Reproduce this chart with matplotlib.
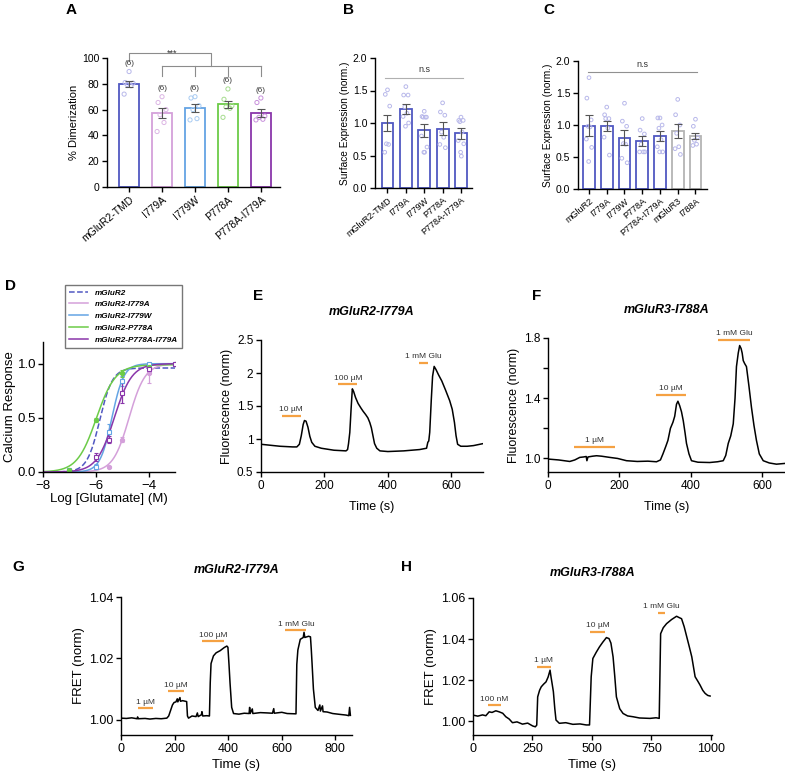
import numpy as np
import matplotlib
matplotlib.use('Agg')
import matplotlib.pyplot as plt

plt.rcParams['font.family'] = ['Liberation Sans', 'DejaVu Sans']

# ---------------- data ----------------
# Panel A
a_cats = ['mGluR2-TMD', 'I779A', 'I779W', 'P778A', 'P778A-I779A']
a_means = [80, 57.5, 61.5, 64, 57.5]
a_sems = [2.5, 4, 3, 3, 3.3]
a_points = [[89.5, 81, 80.5, 79.5, 78.5, 72],
            [70, 65.5, 60, 56, 50, 43],
            [70, 69, 63, 60, 53, 52],
            [76, 68, 63, 62, 61, 54],
            [69, 65.5, 55, 54, 52.5, 52]]
a_n = ['(6)', '(6)', '(6)', '(6)', '(6)']
a_n_y = [96, 76, 76, 82.5, 75]

# Panel B
b_cats = ['mGluR2-TMD', 'I779A', 'I779W', 'P778A', 'P778A-I779A']
b_means = [1.0, 1.22, 0.89, 0.91, 0.84]
b_sems = [0.13, 0.08, 0.10, 0.10, 0.08]
b_points = [[1.51, 1.44, 1.26, 0.68, 0.67, 0.55],
            [1.56, 1.43, 1.43, 1.25, 1.15, 1.10, 1.00, 0.95],
            [1.18, 1.10, 1.09, 1.09, 1.09, 0.80, 0.63, 0.55, 0.55],
            [1.31, 1.17, 1.12, 0.86, 0.78, 0.67, 0.62],
            [1.09, 1.04, 1.04, 1.02, 0.86, 0.73, 0.68, 0.55, 0.49]]

# Panel C
c_cats = ['mGluR2', 'I779A', 'I779W', 'P778A', 'P778A-I779A', 'mGluR3', 'I788A']
c_means = [0.99, 0.98, 0.80, 0.75, 0.83, 0.91, 0.83]
c_sems = [0.16, 0.08, 0.12, 0.08, 0.08, 0.11, 0.05]
c_points = [[1.74, 1.42, 1.08, 0.98, 0.97, 0.78, 0.65, 0.43],
            [1.28, 1.16, 1.10, 1.10, 0.95, 0.81, 0.53],
            [1.34, 1.06, 0.98, 0.71, 0.70, 0.48, 0.41],
            [1.10, 0.92, 0.86, 0.70, 0.58, 0.58, 0.58],
            [1.11, 1.11, 1.00, 0.95, 0.77, 0.66, 0.58, 0.58],
            [1.40, 1.16, 1.00, 0.87, 0.66, 0.63, 0.54],
            [1.09, 0.98, 0.81, 0.76, 0.70, 0.68]]

# Panel D (dose response: fitted Hill parameters and measured points)
d_names = ['mGluR2', 'mGluR2-I779A', 'mGluR2-I779W', 'mGluR2-P778A', 'mGluR2-P778A-I779A']
d_logec50 = [-5.85, -4.74, -5.39, -5.98, -5.30]
d_hill = [1.8, 1.43, 1.93, 1.2, 1.3]
d_top = [0.96, 1.0, 1.0, 0.99, 1.0]
d_pts_x = [[],
           [-5.5, -5, -4, -3],
           [-7, -6, -5.5, -5, -4, -3],
           [-7, -6, -5, -4, -3],
           [-6, -5.5, -5, -4, -3]]
d_pts_y = [[],
           [0.05, 0.30, 0.91, 1.0],
           [0.02, 0.05, 0.37, 0.84, 1.0, 1.0],
           [0.02, 0.48, 0.91, 0.97, 1.0],
           [0.14, 0.30, 0.73, 0.95, 1.0]]
d_pts_err = [[],
             [0.01, 0.02, 0.09, 0.01],
             [0.01, 0.02, 0.07, 0.05, 0.01, 0.01],
             [0.01, 0.02, 0.03, 0.01, 0.01],
             [0.04, 0.03, 0.09, 0.03, 0.01]]

# Panel E trace
e_t = [0, 30, 60, 100, 113, 121, 127, 133, 137, 142, 148, 154, 160, 170, 190, 230, 268,
       273, 276, 280, 284, 288, 292, 298, 306, 315, 322, 330, 337, 343, 348, 353, 358,
       365, 375, 400, 450, 500, 522, 526, 529, 532, 537, 541, 546, 552, 560, 570, 582,
       595, 603, 610, 615, 620, 630, 650, 670, 700]
e_v = [0.92, 0.905, 0.89, 0.88, 0.88, 0.92, 1.05, 1.22, 1.28, 1.27, 1.18, 1.04, 0.95,
       0.89, 0.86, 0.83, 0.82, 0.84, 0.93, 1.10, 1.45, 1.76, 1.72, 1.63, 1.54, 1.47,
       1.42, 1.37, 1.32, 1.25, 1.17, 1.05, 0.93, 0.86, 0.82, 0.81, 0.82, 0.84, 0.86,
       0.95, 0.97, 1.10, 1.60, 1.95, 2.10, 2.05, 1.97, 1.88, 1.74, 1.58, 1.45, 1.25,
       1.05, 0.92, 0.89, 0.89, 0.90, 0.93]
e_stim_lbl = ['10 µM', '100 µM', '1 mM Glu']
e_stim_x0 = [66, 244, 497]
e_stim_x1 = [125, 304, 525]
e_stim_y = [1.35, 1.83, 2.15]

# Panel F trace
f_t = [0, 30, 61, 75, 89, 100, 107, 109, 112, 125, 136, 150, 173, 195, 220, 250, 280,
       304, 315, 322, 330, 336, 343, 350, 355, 360, 364, 369, 374, 379, 384, 388, 395,
       402, 420, 453, 475, 491, 498, 505, 512, 519, 524, 528, 533, 537, 541, 544, 547,
       551, 556, 563, 570, 577, 584, 592, 603, 620, 640, 664]
f_v = [0.996, 0.99, 0.98, 0.99, 1.007, 1.01, 1.013, 0.985, 1.01, 1.015, 1.018, 1.015,
       1.007, 1.0, 0.985, 0.98, 0.982, 0.978, 0.99, 1.03, 1.08, 1.12, 1.2, 1.24, 1.28,
       1.36, 1.38, 1.35, 1.31, 1.25, 1.17, 1.10, 1.03, 0.985, 0.975, 0.973, 0.978,
       0.985, 1.02, 1.10, 1.15, 1.23, 1.40, 1.61, 1.70, 1.75, 1.73, 1.70, 1.65, 1.63,
       1.61, 1.48, 1.34, 1.22, 1.12, 1.03, 0.985, 0.97, 0.962, 0.967]
f_stim_lbl = ['1 µM', '10 µM', '1 mM Glu']
f_stim_x0 = [73, 302, 477]
f_stim_x1 = [187, 388, 565]
f_stim_y = [1.078, 1.42, 1.784]

# Panel G trace
g_t = [0, 20, 40, 60, 62, 64, 90, 108, 130, 150, 171, 178, 185, 192, 198, 205, 210,
       212, 220, 222, 230, 240, 245, 248, 252, 265, 280, 285, 288, 300, 302, 305, 320,
       330, 333, 336, 345, 355, 370, 385, 395, 399, 403, 407, 413, 420, 440, 460, 478,
       480, 482, 490, 492, 520, 545, 565, 570, 572, 600, 620, 653, 656, 660, 669, 680,
       683, 686, 700, 707, 710, 713, 718, 725, 735, 742, 744, 752, 754, 769, 790, 819,
       840, 850, 853, 856]
g_v = [1.0005, 1.0004, 1.0006, 1.0003, 1.0009, 1.0003, 1.0004, 1.0002, 1.0004, 1.0003,
       1.0005, 1.0012, 1.0030, 1.0048, 1.0056, 1.0058, 1.0068, 1.0058, 1.0072, 1.0060,
       1.0062, 1.0060, 1.0059, 1.0012, 1.0005, 1.0012, 1.0010, 1.0022, 1.0010, 1.0016,
       1.0026, 1.0012, 1.0013, 1.0012, 1.0120, 1.0183, 1.0208, 1.0218, 1.0225, 1.0235,
       1.0240, 1.0236, 1.0180, 1.0118, 1.0040, 1.0020, 1.0018, 1.0021, 1.0020, 1.0040,
       1.0020, 1.0035, 1.0020, 1.0023, 1.0022, 1.0021, 1.0036, 1.0021, 1.0024, 1.0020,
       1.0019, 1.0180, 1.0227, 1.0262, 1.0268, 1.0285, 1.0268, 1.0272, 1.0270, 1.0230,
       1.0183, 1.0100, 1.0040, 1.0030, 1.0048, 1.0028, 1.0045, 1.0026, 1.0025, 1.0020,
       1.0017, 1.0015, 1.0013, 1.0040, 1.0014]
g_stim_lbl = ['1 µM', '10 µM', '100 µM', '1 mM Glu']
g_stim_x0 = [62, 177, 304, 613]
g_stim_x1 = [121, 236, 385, 692]
g_stim_y = [1.0038, 1.0093, 1.0256, 1.0292]

# Panel H trace
h_t = [0, 20, 40, 54, 68, 80, 96, 110, 125, 138, 152, 166, 185, 208, 230, 251, 262,
       268, 272, 280, 287, 297, 307, 316, 324, 328, 333, 338, 344, 349, 363, 390, 420,
       450, 476, 490, 497, 504, 518, 532, 546, 561, 572, 580, 589, 596, 603, 617, 631,
       650, 673, 700, 744, 770, 783, 789, 800, 814, 835, 856, 866, 877, 888, 899, 910,
       920, 934, 945, 955, 966, 976, 987, 997]
h_v = [1.0029, 1.0024, 1.0030, 1.0026, 1.0045, 1.0042, 1.0050, 1.0045, 1.0038, 1.0021,
       1.0010, 0.9992, 0.9996, 0.9985, 0.9990, 0.9976, 0.9972, 0.9980, 1.0118, 1.0150,
       1.0167, 1.0180, 1.0191, 1.0215, 1.0248, 1.0216, 1.0180, 1.0143, 1.0060, 1.0005,
       0.9989, 0.9992, 0.9984, 0.9986, 0.9981, 0.9981, 1.0216, 1.0305, 1.0335, 1.0362,
       1.0385, 1.0407, 1.0402, 1.0380, 1.0313, 1.0220, 1.0118, 1.0060, 1.0037, 1.0025,
       1.0021, 1.0015, 1.0013, 1.0016, 1.0013, 1.0426, 1.0455, 1.0475, 1.0495, 1.0511,
       1.0505, 1.0499, 1.0460, 1.0410, 1.0360, 1.0313, 1.0216, 1.0195, 1.0175, 1.0150,
       1.0135, 1.0125, 1.0122]
h_stim_lbl = ['100 nM', '1 µM', '10 µM', '1 mM Glu']
h_stim_x0 = [61, 269, 494, 779]
h_stim_x1 = [117, 328, 553, 807]
h_stim_y = [1.0078, 1.0264, 1.0435, 1.0529]

# ---------------- styling ----------------
W, H = 785, 778
fig = plt.figure(figsize=(W / 100, H / 100), dpi=100)


def ax_px(l, r, t, b):
    return fig.add_axes([l / W, 1 - b / H, (r - l) / W, (b - t) / H])


def style(ax, fs=7.5):
    for s in ['top', 'right']:
        ax.spines[s].set_visible(False)
    for s in ['left', 'bottom']:
        ax.spines[s].set_linewidth(1.0)
    ax.tick_params(labelsize=fs, length=3.5, width=1.0, pad=2)


ORANGE = '#f5a142'
BLUE = '#5158c2'
PINK = '#d4a0da'
LBLUE = '#64a4e4'
GREEN = '#6ccb48'
PURPLE = '#8a36aa'
GRAY = '#b4b4b4'
ERR = '#555555'

offs_pattern = [0.0, -0.12, 0.12, -0.06, 0.06, -0.15, 0.15, -0.02, 0.02]


def bars(ax, means, sems, points, edgecols, ptcols, width, lw=1.3, ms=9):
    x = np.arange(len(means))
    ax.bar(x, means, width=width, color='white', edgecolor=edgecols, linewidth=lw, zorder=2)
    for i, pts in enumerate(points):
        xo = [i + offs_pattern[k % len(offs_pattern)] for k in range(len(pts))]
        ax.scatter(xo, pts, s=ms, facecolors='none', edgecolors=ptcols[i], linewidths=0.7, zorder=3)
    ax.errorbar(x, means, yerr=sems, fmt='none', ecolor=ERR, elinewidth=0.8, capsize=3,
                capthick=0.8, zorder=4)


# ---- A ----
axA = ax_px(107, 280, 58, 187)
style(axA, 7.5)
a_edge = [BLUE, PINK, LBLUE, GREEN, PURPLE]
a_pt = ['#b8b8ea', '#dcb6e4', '#a8cbf2', '#a6dc8e', '#c890dc']
bars(axA, a_means, a_sems, a_points, a_edge, a_pt, 0.63)
axA.set_xlim(-0.67, 4.58)
axA.set_ylim(0, 100)
axA.set_yticks([0, 20, 40, 60, 80, 100])
axA.set_xticks(range(5))
axA.set_xticklabels(a_cats, rotation=40, ha='right', va='top', rotation_mode='anchor', fontsize=7.5)
axA.set_ylabel('% Dimerization', fontsize=8, labelpad=2)
for i in range(5):
    axA.text(i, a_n_y[i], a_n[i], ha='center', va='center', fontsize=5.8, color='#333')
gc = '#8c8c8c'
axA.plot([0, 0, 2.5, 2.5], [97.9, 103.9, 103.9, 93.5], color=gc, lw=0.8, clip_on=False)
axA.plot([1, 4], [93.5, 93.5], color=gc, lw=0.8, clip_on=False)
for i in range(1, 5):
    axA.plot([i, i], [93.5, 86.2], color=gc, lw=0.8, clip_on=False)
axA.text(1.3, 101.8, '***', ha='center', va='baseline', fontsize=6.5, color='#333')

# ---- B ----
axB = ax_px(375, 472, 58, 188)
style(axB, 7.5)
bars(axB, b_means, b_sems, b_points, [BLUE] * 5, ['#b8b8ea'] * 5, 0.65, ms=7)
axB.set_xlim(-0.68, 4.6)
axB.set_ylim(0, 2.0)
axB.set_yticks([0, 0.5, 1.0, 1.5, 2.0])
axB.set_yticklabels(['0.0', '0.5', '1.0', '1.5', '2.0'])
axB.set_xticks(range(5))
axB.set_xticklabels(b_cats, rotation=40, ha='right', va='top', rotation_mode='anchor', fontsize=6.5)
axB.set_ylabel('Surface Expression (norm.)', fontsize=7.3, labelpad=2)
axB.plot([-0.12, 4.1], [1.69, 1.69], color='#b0b0b0', lw=0.8)
axB.text(2.0, 1.75, 'n.s', ha='center', va='bottom', fontsize=6.5, color='#333')

# ---- C ----
axC = ax_px(578, 707, 61, 189)
style(axC, 7.5)
c_edge = [BLUE] * 5 + [GRAY] * 2
bars(axC, c_means, c_sems, c_points, c_edge, ['#b8b8ea'] * 7, 0.66, ms=7)
axC.set_xlim(-0.62, 6.65)
axC.set_ylim(0, 2.0)
axC.set_yticks([0, 0.5, 1.0, 1.5, 2.0])
axC.set_yticklabels(['0.0', '0.5', '1.0', '1.5', '2.0'])
axC.set_xticks(range(7))
axC.set_xticklabels(c_cats, rotation=40, ha='right', va='top', rotation_mode='anchor', fontsize=6.5)
axC.set_ylabel('Surface Expression (norm.)', fontsize=7.3, labelpad=2)
axC.plot([-0.05, 6.1], [1.83, 1.83], color='#909090', lw=0.8)
axC.text(3.0, 1.88, 'n.s', ha='center', va='bottom', fontsize=6.5, color='#333')

# ---- D ----
axD = ax_px(43, 175, 342, 472)
style(axD, 9.5)
axD.tick_params(axis='y', pad=1.5)
d_cols = [BLUE, PINK, LBLUE, GREEN, PURPLE]
d_ls = ['--', '-', '-', '-', '-']
d_mk = ['o', 'o', 's', 'o', 's']
d_mfc = [BLUE, PINK, 'white', GREEN, 'white']
xx = np.linspace(-8, -3, 400)
handles = []
for i in range(5):
    yy = d_top[i] / (1 + 10 ** ((d_logec50[i] - xx) * d_hill[i]))
    h, = axD.plot(xx, yy, color=d_cols[i], ls=d_ls[i], lw=1.1, label=d_names[i])
    handles.append(h)
    if d_pts_x[i]:
        axD.errorbar(d_pts_x[i], d_pts_y[i], yerr=d_pts_err[i], fmt=d_mk[i], color=d_cols[i],
                     mfc=d_mfc[i], mec=d_cols[i], ms=3, mew=0.8, elinewidth=0.9, capsize=1.5)
axD.set_xlim(-8, -3)
axD.set_ylim(0, 1.2)
axD.set_xticks([-8, -6, -4])
axD.set_yticks([0, 0.5, 1.0])
axD.set_yticklabels(['0.0', '0.5', '1.0'])
axD.set_ylabel('Calcium Response', fontsize=9.5, labelpad=1)
axD.set_xlabel('Log [Glutamate] (M)', fontsize=9.5, labelpad=1)
leg = fig.legend(handles=handles, loc='upper left', bbox_to_anchor=(61 / W, 1 - 281 / H),
                 prop={'size': 5.9, 'weight': 'bold', 'style': 'italic'}, frameon=True,
                 fancybox=False, edgecolor='#555555', handlelength=2.4, labelspacing=0.5,
                 borderpad=0.45, handletextpad=0.8)
leg.get_frame().set_linewidth(1.0)


def trace(ax, t, v, x0, x1, ys, lbls, lblsize, off):
    ax.plot(t, v, color='black', lw=1.1)
    for a, b, y, s in zip(x0, x1, ys, lbls):
        ax.plot([a, b], [y, y], color=ORANGE, lw=1.6, solid_capstyle='butt')
        ax.text((a + b) / 2, y + off, s, ha='center', va='bottom', fontsize=lblsize, color='#333')


# ---- E ----
axE = ax_px(261, 483, 340, 472)
style(axE, 8.5)
trace(axE, e_t, e_v, e_stim_x0, e_stim_x1, e_stim_y, e_stim_lbl, 6, 0.04)
axE.set_xlim(0, 700)
axE.set_ylim(0.5, 2.5)
axE.set_yticks([0.5, 1, 1.5, 2, 2.5])
axE.set_yticklabels(['0.5', '1', '1.5', '2', '2.5'])
axE.set_xticks([0, 200, 400, 600])
axE.set_ylabel('Fluorescence (norm)', fontsize=9, labelpad=3)
axE.set_xlabel('Time (s)', fontsize=9, labelpad=7)
axE.set_title('mGluR2-I779A', fontsize=9, fontweight='bold', style='italic', pad=18)

# ---- F ----
axF = ax_px(548, 785, 338, 472)
style(axF, 8.5)
trace(axF, f_t, f_v, f_stim_x0, f_stim_x1, f_stim_y, f_stim_lbl, 6, 0.02)
axF.set_xlim(0, 664)
axF.set_ylim(0.91, 1.8)
axF.set_yticks([1.0, 1.2, 1.4, 1.6, 1.8])
axF.set_yticklabels(['1.0', '', '1.4', '', '1.8'])
axF.set_xticks([0, 200, 400, 600])
axF.set_ylabel('Fluorescence (norm)', fontsize=9, labelpad=3)
axF.set_xlabel('Time (s)', fontsize=9, labelpad=7)
axF.set_title('mGluR3-I788A', fontsize=9, fontweight='bold', style='italic', pad=18)

# ---- G ----
axG = ax_px(121, 352, 597, 735)
style(axG, 9)
trace(axG, g_t, g_v, g_stim_x0, g_stim_x1, g_stim_y, g_stim_lbl, 6, 0.0008)
axG.set_xlim(0, 862)
axG.set_ylim(0.995, 1.04)
axG.set_yticks([1.00, 1.02, 1.04])
axG.set_yticklabels(['1.00', '1.02', '1.04'])
axG.set_xticks([0, 200, 400, 600, 800])
axG.set_ylabel('FRET (norm)', fontsize=9.5, labelpad=3)
axG.set_xlabel('Time (s)', fontsize=9.5, labelpad=3)
axG.set_title('mGluR2-I779A', fontsize=9, fontweight='bold', style='italic', pad=17)

# ---- H ----
axH = ax_px(473, 712, 598, 735)
style(axH, 9)
trace(axH, h_t, h_v, h_stim_x0, h_stim_x1, h_stim_y, h_stim_lbl, 6, 0.0012)
axH.set_xlim(0, 1005)
axH.set_ylim(0.9932, 1.06)
axH.set_yticks([1.00, 1.02, 1.04, 1.06])
axH.set_yticklabels(['1.00', '1.02', '1.04', '1.06'])
axH.set_xticks([0, 250, 500, 750, 1000])
axH.set_ylabel('FRET (norm)', fontsize=9.5, labelpad=3)
axH.set_xlabel('Time (s)', fontsize=9.5, labelpad=3)
axH.set_title('mGluR3-I788A', fontsize=9, fontweight='bold', style='italic', pad=16)

# panel letters
for s, x, y in [('A', 71, 10), ('B', 348, 10), ('C', 549, 10), ('D', 10, 286),
                ('E', 258, 296), ('F', 537, 296), ('G', 18, 567), ('H', 406, 567)]:
    fig.text(x / W, 1 - y / H, s, ha='center', va='center', fontsize=11, fontweight='bold')

fig.savefig('out.png', dpi=100)
